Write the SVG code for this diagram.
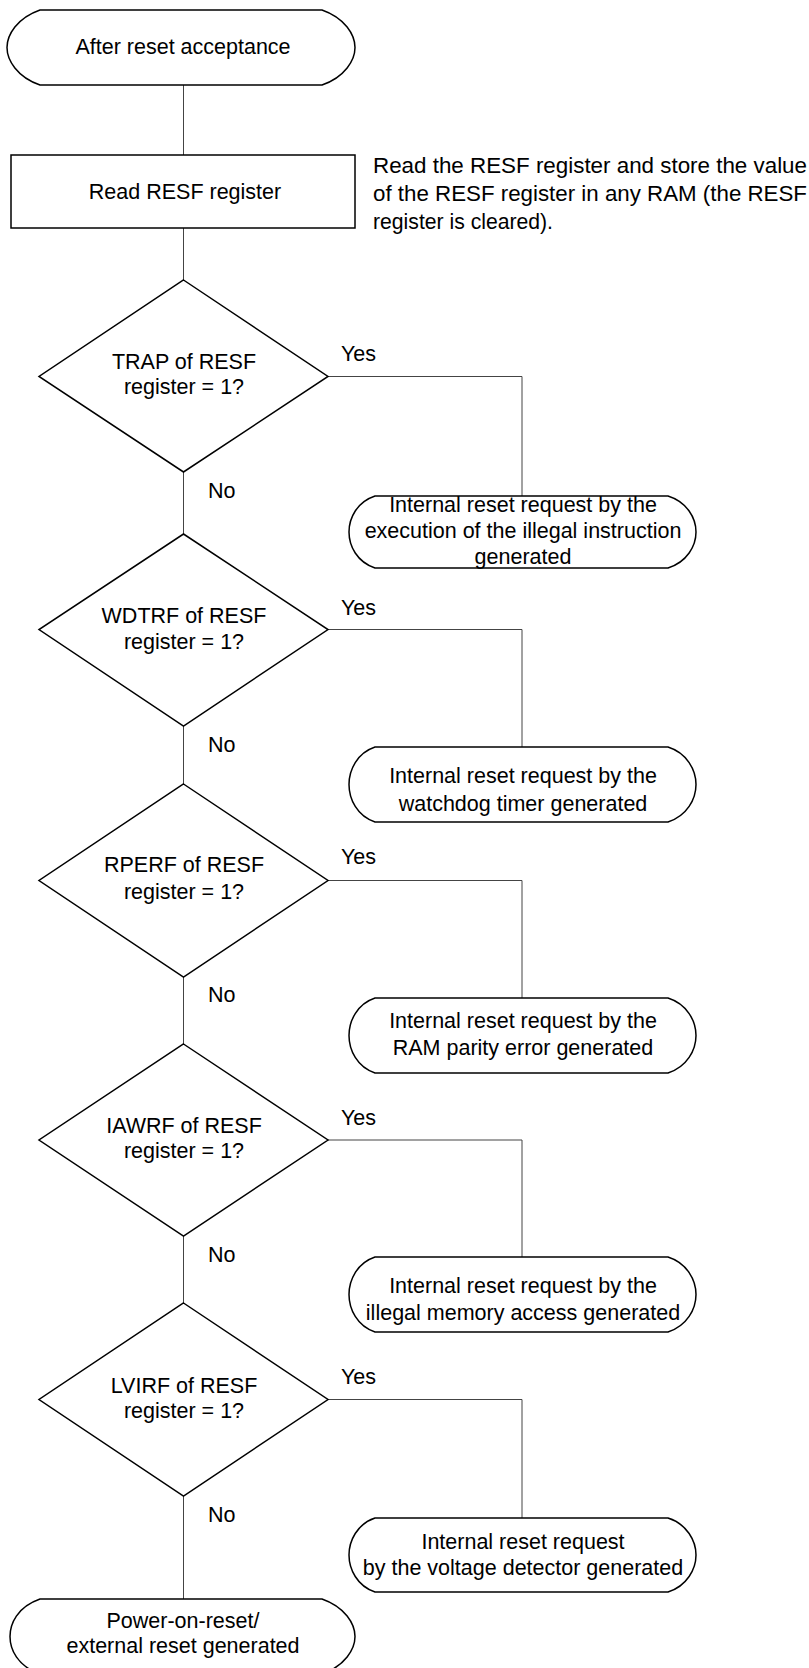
<svg xmlns="http://www.w3.org/2000/svg" width="809" height="1668" viewBox="0 0 809 1668">
<style>
  .shape { fill: #fff; stroke: #000; stroke-width: 1.5; }
  .conn { fill: none; stroke: #444; stroke-width: 1; }
  text { font-family: "Liberation Sans", Arial, sans-serif; font-size: 21.5px; fill: #000; }
  .c { text-anchor: middle; }
</style>
<rect width="809" height="1668" fill="#fff"/>
<g id="connectors">
  <path class="conn" d="M183.5,85 V155 M183.5,228 V280 M183.5,472 V534 M183.5,726 V784 M183.5,977 V1044 M183.5,1236 V1303 M183.5,1496 V1599"/>
  <path class="conn" d="M328,376.5 H522 V496"/>
  <path class="conn" d="M328,629.5 H522 V747"/>
  <path class="conn" d="M328,880.5 H522 V998"/>
  <path class="conn" d="M328,1140 H522 V1257"/>
  <path class="conn" d="M328,1399.5 H522 V1518"/>
</g>
<g id="start">
  <path class="shape" d="M40,10 H322 C345,18 355,35 355,47.5 C355,60 345,77 322,85 H40 C17,77 7,60 7,47.5 C7,35 17,18 40,10 Z"/>
  <text class="c" x="183" y="54">After reset acceptance</text>
</g>
<g id="read">
  <rect class="shape" x="11" y="155" width="344" height="73"/>
  <text class="c" x="185" y="199">Read RESF register</text>
</g>
<g id="note">
  <text x="373" y="173" textLength="434" lengthAdjust="spacingAndGlyphs">Read the RESF register and store the value</text>
  <text x="373" y="201" textLength="434" lengthAdjust="spacingAndGlyphs">of the RESF register in any RAM (the RESF</text>
  <text x="373" y="229" textLength="180" lengthAdjust="spacingAndGlyphs">register is cleared).</text>
</g>
<g id="d1">
  <polygon class="shape" points="183.5,280 328,376.5 183.5,472 39,376.5"/>
  <text class="c" x="184" y="369">TRAP of RESF</text>
  <text class="c" x="184" y="394">register = 1?</text>
  <text x="341" y="361">Yes</text>
  <text x="208" y="498">No</text>
</g>
<g id="r1">
  <path class="shape" d="M375,496 H668 C687,502 696,518 696,532 C696,546 687,562 668,568 H375 C357,562 349,546 349,532 C349,518 357,502 375,496 Z"/>
  <text class="c" x="523" y="512">Internal reset request by the</text>
  <text class="c" x="523" y="538">execution of the illegal instruction</text>
  <text class="c" x="523" y="564">generated</text>
</g>
<g id="d2">
  <polygon class="shape" points="183.5,534 328,629.5 183.5,726 39,629.5"/>
  <text class="c" x="184" y="623">WDTRF of RESF</text>
  <text class="c" x="184" y="649">register = 1?</text>
  <text x="341" y="615">Yes</text>
  <text x="208" y="752">No</text>
</g>
<g id="r2">
  <path class="shape" d="M375,747 H668 C687,753 696,770 696,784.5 C696,799 687,816 668,822 H375 C357,816 349,799 349,784.5 C349,770 357,753 375,747 Z"/>
  <text class="c" x="523" y="783">Internal reset request by the</text>
  <text class="c" x="523" y="811">watchdog timer generated</text>
</g>
<g id="d3">
  <polygon class="shape" points="183.5,784 328,880.5 183.5,977 39,880.5"/>
  <text class="c" x="184" y="872">RPERF of RESF</text>
  <text class="c" x="184" y="899">register = 1?</text>
  <text x="341" y="864">Yes</text>
  <text x="208" y="1002">No</text>
</g>
<g id="r3">
  <path class="shape" d="M375,998 H668 C687,1004 696,1021 696,1035.5 C696,1050 687,1067 668,1073 H375 C357,1067 349,1050 349,1035.5 C349,1021 357,1004 375,998 Z"/>
  <text class="c" x="523" y="1028">Internal reset request by the</text>
  <text class="c" x="523" y="1055">RAM parity error generated</text>
</g>
<g id="d4">
  <polygon class="shape" points="183.5,1044 328,1140 183.5,1236 39,1140"/>
  <text class="c" x="184" y="1133">IAWRF of RESF</text>
  <text class="c" x="184" y="1158">register = 1?</text>
  <text x="341" y="1125">Yes</text>
  <text x="208" y="1262">No</text>
</g>
<g id="r4">
  <path class="shape" d="M375,1257 H668 C687,1263 696,1280 696,1294.5 C696,1309 687,1326 668,1332 H375 C357,1326 349,1309 349,1294.5 C349,1280 357,1263 375,1257 Z"/>
  <text class="c" x="523" y="1293">Internal reset request by the</text>
  <text class="c" x="523" y="1320">illegal memory access generated</text>
</g>
<g id="d5">
  <polygon class="shape" points="183.5,1303 328,1399.5 183.5,1496 39,1399.5"/>
  <text class="c" x="184" y="1393">LVIRF of RESF</text>
  <text class="c" x="184" y="1418">register = 1?</text>
  <text x="341" y="1384">Yes</text>
  <text x="208" y="1522">No</text>
</g>
<g id="r5">
  <path class="shape" d="M375,1518 H668 C687,1524 696,1541 696,1555 C696,1569 687,1586 668,1592 H375 C357,1586 349,1569 349,1555 C349,1541 357,1524 375,1518 Z"/>
  <text class="c" x="523" y="1549">Internal reset request</text>
  <text class="c" x="523" y="1575">by the voltage detector generated</text>
</g>
<g id="end">
  <path class="shape" d="M40,1599 H322 C345,1607 355,1624 355,1636.5 C355,1649 345,1666 322,1674 H40 C17,1666 10,1649 10,1636.5 C10,1624 17,1607 40,1599 Z"/>
  <text class="c" x="183" y="1628">Power-on-reset/</text>
  <text class="c" x="183" y="1653">external reset generated</text>
</g>
</svg>
